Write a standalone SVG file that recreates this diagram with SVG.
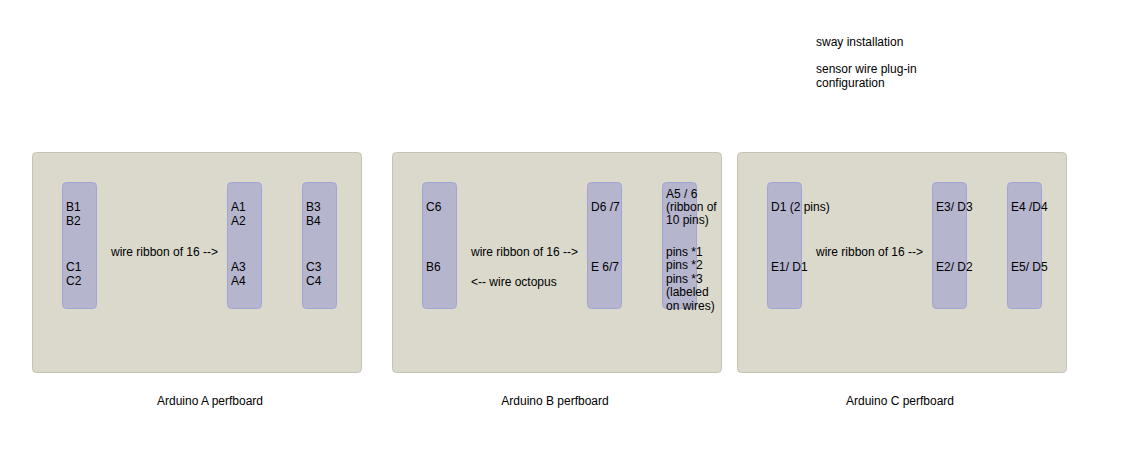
<svg xmlns="http://www.w3.org/2000/svg" width="1129" height="457" viewBox="0 0 1129 457">
<style>
.board{fill:#dad9cc;stroke:#c3c2b4;stroke-width:1}
.strip{fill:#b5b5cd;stroke:#a3a4d6;stroke-width:1}
text{font-family:"Liberation Sans",Arial,sans-serif;font-size:12px;fill:#000}
.c{text-anchor:middle}
</style>
<rect width="1129" height="457" fill="#fff"/>
<g id="header">
<text x="816" y="46">sway installation</text>
<text x="816" y="73">sensor wire plug-in</text>
<text x="816" y="87">configuration</text>
</g>
<g id="boardA">
<rect class="board" x="32.5" y="152.5" width="329" height="220" rx="4"/>
<rect class="strip" x="62.5" y="182.5" width="34" height="126" rx="4"/>
<rect class="strip" x="227.5" y="182.5" width="34" height="126" rx="4"/>
<rect class="strip" x="302.5" y="182.5" width="34" height="126" rx="4"/>
<text x="66" y="211.3">B1</text><text x="66" y="224.6">B2</text>
<text x="66" y="271.3">C1</text><text x="66" y="284.6">C2</text>
<text x="111" y="256">wire ribbon of 16 --&gt;</text>
<text x="231" y="211.3">A1</text><text x="231" y="224.6">A2</text>
<text x="231" y="271.3">A3</text><text x="231" y="284.6">A4</text>
<text x="306" y="211.3">B3</text><text x="306" y="224.6">B4</text>
<text x="306" y="271.3">C3</text><text x="306" y="284.6">C4</text>
<text class="c" x="210" y="405">Arduino A perfboard</text>
</g>
<g id="boardB">
<rect class="board" x="392.5" y="152.5" width="329" height="220" rx="4"/>
<rect class="strip" x="422.5" y="182.5" width="34" height="126" rx="4"/>
<rect class="strip" x="587.5" y="182.5" width="34" height="126" rx="4"/>
<rect class="strip" x="662.5" y="182.5" width="34" height="126" rx="4"/>
<text x="426" y="211.3">C6</text>
<text x="426" y="271.3">B6</text>
<text x="471" y="256">wire ribbon of 16 --&gt;</text>
<text x="471" y="286">&lt;-- wire octopus</text>
<text x="591" y="211.3">D6 /7</text>
<text x="591" y="271.3">E 6/7</text>
<text x="666" y="197.5">A5 / 6</text><text x="666" y="210.9">(ribbon of</text><text x="666" y="224.3">10 pins)</text>
<text x="666" y="256">pins *1</text><text x="666" y="269.4">pins *2</text><text x="666" y="282.8">pins *3</text><text x="666" y="296.2">(labeled</text><text x="666" y="309.6">on wires)</text>
<text class="c" x="555" y="405">Arduino B perfboard</text>
</g>
<g id="boardC">
<rect class="board" x="737.5" y="152.5" width="329" height="220" rx="4"/>
<rect class="strip" x="767.5" y="182.5" width="34" height="126" rx="4"/>
<rect class="strip" x="932.5" y="182.5" width="34" height="126" rx="4"/>
<rect class="strip" x="1007.5" y="182.5" width="34" height="126" rx="4"/>
<text x="771" y="211.3">D1 (2 pins)</text>
<text x="771" y="271.3">E1/ D1</text>
<text x="816" y="256">wire ribbon of 16 --&gt;</text>
<text x="936" y="211.3">E3/ D3</text>
<text x="936" y="271.3">E2/ D2</text>
<text x="1011" y="211.3">E4 /D4</text>
<text x="1011" y="271.3">E5/ D5</text>
<text class="c" x="900" y="405">Arduino C perfboard</text>
</g>
<g id="connectors"></g>
</svg>
